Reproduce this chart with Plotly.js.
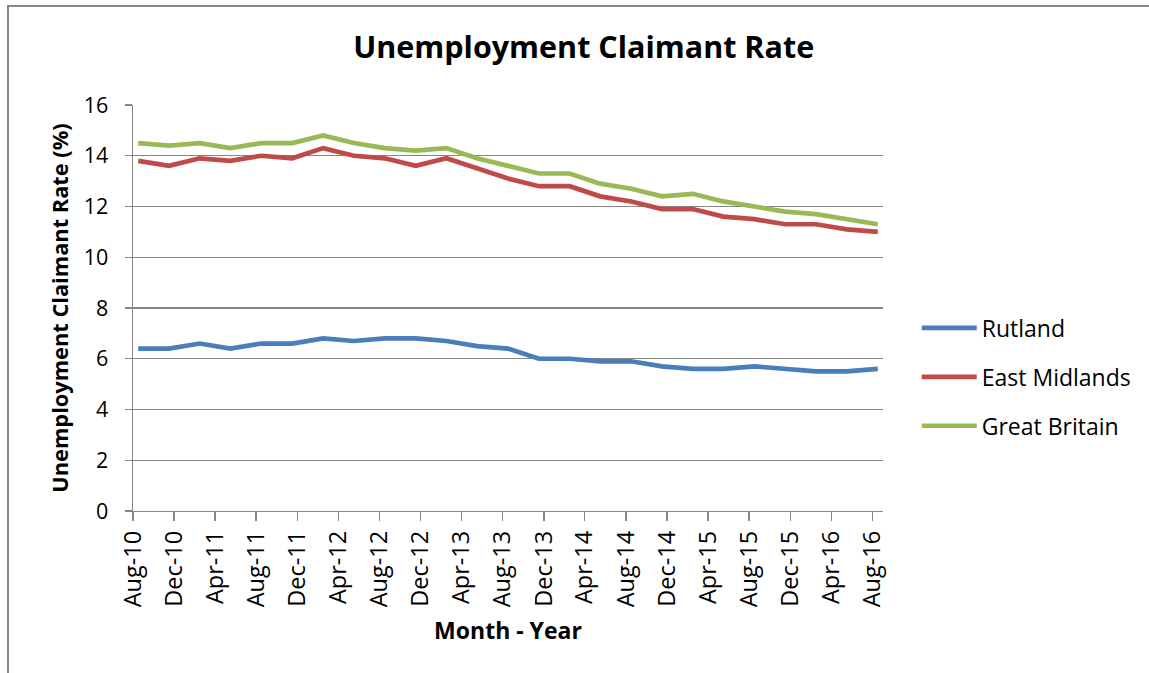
<!DOCTYPE html>
<html>
<head>
<meta charset="utf-8">
<script src="https://cdn.plot.ly/plotly-3.0.1.min.js"></script>
<style>html,body{margin:0;padding:0;background:#fff;}#chart{width:1149px;height:673px;}</style>
</head>
<body>
<div id="chart"></div>
<script>
// Quarterly observations, Aug-2010 to Aug-2016
const months = ["2010-08","2010-11","2011-02","2011-05","2011-08","2011-11","2012-02","2012-05","2012-08","2012-11","2013-02","2013-05","2013-08","2013-11","2014-02","2014-05","2014-08","2014-11","2015-02","2015-05","2015-08","2015-11","2016-02","2016-05","2016-08"];
const rutland = [6.4,6.4,6.6,6.4,6.6,6.6,6.8,6.7,6.8,6.8,6.7,6.5,6.4,6.0,6.0,5.9,5.9,5.7,5.6,5.6,5.7,5.6,5.5,5.5,5.6];
const eastMidlands = [13.8,13.6,13.9,13.8,14.0,13.9,14.3,14.0,13.9,13.6,13.9,13.5,13.1,12.8,12.8,12.4,12.2,11.9,11.9,11.6,11.5,11.3,11.3,11.1,11.0];
const greatBritain = [14.5,14.4,14.5,14.3,14.5,14.5,14.8,14.5,14.3,14.2,14.3,13.9,13.6,13.3,13.3,12.9,12.7,12.4,12.5,12.2,12.0,11.8,11.7,11.5,11.3];
const seriesNames = ["Rutland","East Midlands","Great Britain"];
const seriesColors = ["#4A7EBB","#BE4B48","#98B954"];
const titleText = "Unemployment Claimant Rate";
const xTitle = "Month - Year";
const yTitle = "Unemployment Claimant Rate (%)";

const FONT = "Open Sans, sans-serif";
const values = [rutland, eastMidlands, greatBritain];
const traces = values.map((v, i) => ({
  type: "scatter",
  mode: "lines",
  x: months,
  y: v,
  xperiod: "M1",
  xperiodalignment: "middle",
  name: seriesNames[i],
  legendgroup: "g" + i,
  line: {color: seriesColors[i], width: 4.7},
  hoverinfo: "x+y+name"
}));

const layout = {
  width: 1149,
  height: 673,
  margin: {l: 133, r: 266, t: 105, b: 162},
  paper_bgcolor: "#ffffff",
  plot_bgcolor: "#ffffff",
  font: {family: FONT, color: "#000000", size: 20},
  title: {
    text: "<b>" + titleText + "</b>",
    font: {family: FONT, size: 30.5, color: "#000000"},
    xref: "container", x: 0.508, xanchor: "center",
    yref: "container", y: 0.930, yanchor: "middle"
  },
  xaxis: {
    type: "date",
    range: ["2010-08-01", "2016-09-01"],
    tick0: "2010-08-01",
    dtick: "M4",
    tickformat: "%b-%y",
    tickangle: -90,
    ticks: "outside",
    ticklen: 9,
    tickwidth: 1.4,
    tickcolor: "#868686",
    showline: true,
    linecolor: "#868686",
    linewidth: 1.4,
    showgrid: false,
    zeroline: false,
    tickfont: {family: FONT, size: 23.5, color: "#000"},
    title: {text: "<b>" + xTitle + "</b>", font: {family: FONT, size: 23, color: "#000"}, standoff: 16}
  },
  yaxis: {
    range: [0, 16],
    dtick: 2,
    ticks: "outside",
    ticklen: 7,
    tickwidth: 1.4,
    tickcolor: "#868686",
    showline: true,
    linecolor: "#868686",
    linewidth: 1.4,
    showgrid: true,
    gridcolor: "#868686",
    gridwidth: 1.4,
    zeroline: false,
    ticklabelstandoff: 12,
    tickfont: {family: FONT, size: 21.5, color: "#000"},
    title: {text: "<b>" + yTitle + "</b>", font: {family: FONT, size: 21.8, color: "#000"}, standoff: 9}
  },
  showlegend: true,
  legend: {
    x: 1.045, xanchor: "left",
    y: 0.33, yanchor: "middle",
    font: {family: FONT, size: 23, color: "#000"},
    itemwidth: 55,
    tracegroupgap: 16,
    bgcolor: "rgba(0,0,0,0)",
    borderwidth: 0
  },
  shapes: [{
    type: "rect", xref: "paper", yref: "paper",
    x0: (8 - 133) / 750, x1: 1.4,
    y0: -0.5, y1: (511 - 6) / 406,
    line: {color: "#898989", width: 2},
    fillcolor: "rgba(0,0,0,0)",
    layer: "below"
  }]
};

Plotly.newPlot("chart", traces, layout, {displayModeBar: false, staticPlot: true});
</script>
</body>
</html>
